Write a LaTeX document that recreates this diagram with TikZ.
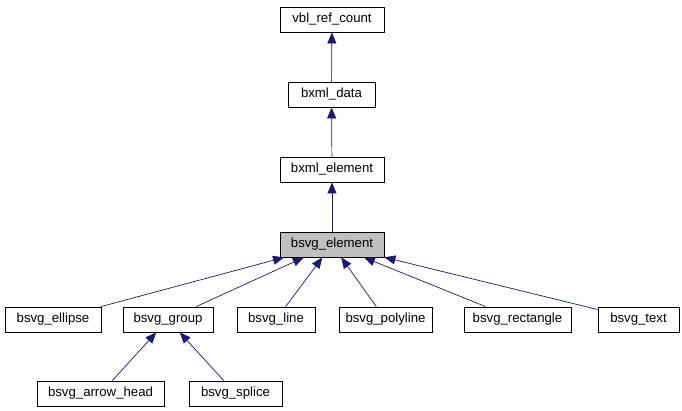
\documentclass[tikz,border=0pt]{standalone}
\usepackage{fontspec}
\setmainfont{Liberation Sans}
\usetikzlibrary{arrows.meta}
\definecolor{edgeblue}{HTML}{191970}
\definecolor{basegray}{HTML}{BFBFBF}

\begin{document}
\begin{tikzpicture}[x=1pt,y=-1pt,
    cls/.style={draw=black,line width=0.8pt,minimum height=25pt,inner sep=0pt,
        font=\fontsize{13.2}{15}\selectfont},
    inh/.style={draw=edgeblue,line width=0.7pt,
        -{Triangle[length=11pt,width=9pt,fill=edgeblue]}}]
    \useasboundingbox (0,0) rectangle (682,410);
    % hierarchy, top to bottom
    \node[cls,minimum width=104pt] (refcount) at (332,19.5) {vbl\_ref\_count};
    \node[cls,minimum width=87pt] (data) at (331.5,94.5) {bxml\_data};
    \node[cls,minimum width=104pt] (xmlelem) at (332,169.5) {bxml\_element};
    \node[cls,minimum width=104pt,fill=basegray] (svgelem) at (332,244.5) {bsvg\_element};
    % derived classes
    \node[cls,minimum width=96pt] (ellipse) at (53,319.5) {bsvg\_ellipse};
    \node[cls,minimum width=90pt] (group) at (168,319.5) {bsvg\_group};
    \node[cls,minimum width=78pt] (line) at (276,319.5) {bsvg\_line};
    \node[cls,minimum width=93pt] (polyline) at (385.5,319.5) {bsvg\_polyline};
    \node[cls,minimum width=107pt] (rectangle) at (517.5,319.5) {bsvg\_rectangle};
    \node[cls,minimum width=81pt] (text) at (638.5,319.5) {bsvg\_text};
    \node[cls,minimum width=127pt] (arrowhead) at (100.5,393.5) {bsvg\_arrow\_head};
    \node[cls,minimum width=93pt] (splice) at (235.5,393.5) {bsvg\_splice};
    % inheritance edges
    \draw[inh] (data) -- (refcount);
    \draw[inh] (xmlelem) -- (data);
    \draw[inh] (svgelem) -- (xmlelem);
    \foreach \c in {ellipse,group,line,polyline,rectangle,text}
        \draw[inh] (\c) -- (svgelem);
    \draw[inh] (arrowhead) -- (group);
    \draw[inh] (splice) -- (group);
\end{tikzpicture}
\end{document}
